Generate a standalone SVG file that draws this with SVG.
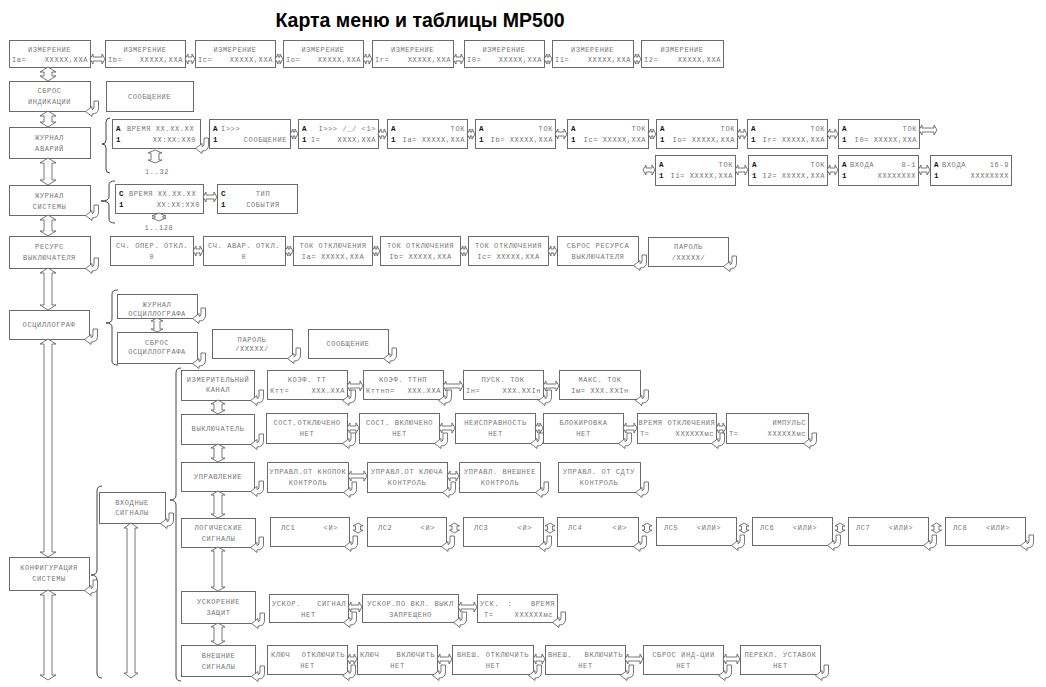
<svg xmlns="http://www.w3.org/2000/svg" xmlns:xlink="http://www.w3.org/1999/xlink" width="1046" height="687" viewBox="0 0 1046 687">
<style>
.b{fill:#fff;stroke:#6a6a6a;stroke-width:1}
.t{font-family:"Liberation Mono",monospace;font-size:7px;letter-spacing:0.6px;fill:#777}
.m{text-anchor:middle}
.e{text-anchor:end}
.k{font-family:"Liberation Mono",monospace;font-size:7.5px;font-weight:bold;fill:#111}
.ar{fill:#fff;stroke:#555;stroke-width:0.8}
.br{fill:none;stroke:#444;stroke-width:1}
.title{font-family:"Liberation Sans",Arial,sans-serif;font-size:19.5px;font-weight:bold;fill:#000;text-anchor:middle}
</style>
<defs>
<path id="hk" class="ar" d="M9,0 H13.5 V7 Q13.5,13 7,13 V15.5 L0.5,10.5 L7,5.5 V8.5 Q9,8.5 9,6 Z"/>
</defs>
<rect width="1046" height="687" fill="#fff"/>
<text class="title" x="420" y="27">Карта меню и таблицы МР500</text>

<!-- Row 1 -->
<g id="n-izm-a"><rect class="b" x="9.5" y="40.5" width="81" height="27"/><text class="t m" x="49.5" y="52">ИЗМЕРЕНИЕ</text><text class="t" x="12" y="62">Ia=</text><text class="t e" x="88" y="62">XXXXX,XXA</text></g>
<g id="n-izm-b"><rect class="b" x="105.5" y="40.5" width="80" height="27"/><text class="t m" x="145" y="52">ИЗМЕРЕНИЕ</text><text class="t" x="108" y="62">Ib=</text><text class="t e" x="183" y="62">XXXXX,XXA</text></g>
<g id="n-izm-c"><rect class="b" x="195.5" y="40.5" width="80" height="27"/><text class="t m" x="235" y="52">ИЗМЕРЕНИЕ</text><text class="t" x="198" y="62">Ic=</text><text class="t e" x="273" y="62">XXXXX,XXA</text></g>
<g id="n-izm-o"><rect class="b" x="283.5" y="40.5" width="80" height="27"/><text class="t m" x="323" y="52">ИЗМЕРЕНИЕ</text><text class="t" x="286" y="62">Io=</text><text class="t e" x="361" y="62">XXXXX,XXA</text></g>
<g id="n-izm-r"><rect class="b" x="372.5" y="40.5" width="81" height="27"/><text class="t m" x="412.5" y="52">ИЗМЕРЕНИЕ</text><text class="t" x="375" y="62">Ir=</text><text class="t e" x="451" y="62">XXXXX,XXA</text></g>
<g id="n-izm-0"><rect class="b" x="464.5" y="40.5" width="80" height="27"/><text class="t m" x="504" y="52">ИЗМЕРЕНИЕ</text><text class="t" x="467" y="62">I0=</text><text class="t e" x="542" y="62">XXXXX,XXA</text></g>
<g id="n-izm-1"><rect class="b" x="552.5" y="40.5" width="81" height="27"/><text class="t m" x="592.5" y="52">ИЗМЕРЕНИЕ</text><text class="t" x="555" y="62">I1=</text><text class="t e" x="631" y="62">XXXXX,XXA</text></g>
<g id="n-izm-2"><rect class="b" x="641.5" y="40.5" width="82" height="27"/><text class="t m" x="682" y="52">ИЗМЕРЕНИЕ</text><text class="t" x="644" y="62">I2=</text><text class="t e" x="721" y="62">XXXXX,XXA</text></g>

<!-- Row 2 -->
<g id="n-sbros"><rect class="b" x="9.5" y="81.5" width="81" height="30"/><text class="t m" x="49.5" y="93">СБРОС</text><text class="t m" x="49.5" y="104">ИНДИКАЦИИ</text></g>
<g id="n-soob1"><rect class="b" x="106.5" y="81.5" width="87" height="30"/><text class="t m" x="149.5" y="99">СООБЩЕНИЕ</text></g>

<!-- Row 3 -->
<g id="n-avar"><rect class="b" x="9.5" y="127.5" width="81" height="31"/><text class="t m" x="49.5" y="140">ЖУРНАЛ</text><text class="t m" x="49.5" y="151">АВАРИЙ</text></g>
<g id="n-av-time"><rect class="b" x="112.5" y="119.5" width="88" height="29"/><text class="k" x="116" y="131">A</text><text class="t" x="127" y="131">ВРЕМЯ XX.XX.XX</text><text class="k" x="116" y="142">1</text><text class="t e" x="196" y="142">XX:XX:XX0</text></g>
<g id="n-av-msg"><rect class="b" x="209.5" y="119.5" width="81" height="29"/><text class="k" x="213" y="131">A</text><text class="t" x="221" y="131">I&gt;&gt;&gt;</text><text class="k" x="213" y="142">1</text><text class="t e" x="287" y="142">СООБЩЕНИЕ</text></g>
<g id="n-av-i"><rect class="b" x="298.5" y="119.5" width="80" height="29"/><text class="k" x="302" y="131">A</text><text class="t e" x="376" y="131">I&gt;&gt;&gt; /_/ &lt;1&gt;</text><text class="k" x="302" y="142">1</text><text class="t" x="311" y="142">I=</text><text class="t e" x="376" y="142">XXXX,XXA</text></g>
<g id="n-av-ia"><rect class="b" x="387.5" y="119.5" width="80" height="29"/><text class="k" x="391" y="131">A</text><text class="t e" x="465" y="131">ТОК</text><text class="k" x="391" y="142">1</text><text class="t e" x="465" y="142">Ia= XXXXX,XXA</text></g>
<g id="n-av-ib"><rect class="b" x="475.5" y="119.5" width="80" height="29"/><text class="k" x="479" y="131">A</text><text class="t e" x="553" y="131">ТОК</text><text class="k" x="479" y="142">1</text><text class="t e" x="553" y="142">Ib= XXXXX,XXA</text></g>
<g id="n-av-ic"><rect class="b" x="567.5" y="119.5" width="81" height="29"/><text class="k" x="571" y="131">A</text><text class="t e" x="646" y="131">ТОК</text><text class="k" x="571" y="142">1</text><text class="t e" x="646" y="142">Ic= XXXXX,XXA</text></g>
<g id="n-av-io"><rect class="b" x="656.5" y="119.5" width="81" height="29"/><text class="k" x="660" y="131">A</text><text class="t e" x="735" y="131">ТОК</text><text class="k" x="660" y="142">1</text><text class="t e" x="735" y="142">Io= XXXXX,XXA</text></g>
<g id="n-av-ir"><rect class="b" x="747.5" y="119.5" width="80" height="29"/><text class="k" x="751" y="131">A</text><text class="t e" x="825" y="131">ТОК</text><text class="k" x="751" y="142">1</text><text class="t e" x="825" y="142">Ir= XXXXX,XXA</text></g>
<g id="n-av-i0"><rect class="b" x="838.5" y="119.5" width="81" height="29"/><text class="k" x="842" y="131">A</text><text class="t e" x="917" y="131">ТОК</text><text class="k" x="842" y="142">1</text><text class="t e" x="917" y="142">I0= XXXXX,XXA</text></g>
<g id="n-av-i1"><rect class="b" x="655.5" y="155.5" width="80" height="30"/><text class="k" x="659" y="167">A</text><text class="t e" x="733" y="167">ТОК</text><text class="k" x="659" y="178">1</text><text class="t e" x="733" y="178">I1= XXXXX,XXA</text></g>
<g id="n-av-i2"><rect class="b" x="748.5" y="155.5" width="79" height="30"/><text class="k" x="752" y="167">A</text><text class="t e" x="825" y="167">ТОК</text><text class="k" x="752" y="178">1</text><text class="t e" x="825" y="178">I2= XXXXX,XXA</text></g>
<g id="n-av-in1"><rect class="b" x="838.5" y="155.5" width="80" height="30"/><text class="k" x="842" y="167">A</text><text class="t" x="850" y="167">ВХОДА</text><text class="t e" x="916" y="167">8-1</text><text class="k" x="842" y="178">1</text><text class="t e" x="916" y="178">XXXXXXXX</text></g>
<g id="n-av-in2"><rect class="b" x="930.5" y="155.5" width="81" height="30"/><text class="k" x="934" y="167">A</text><text class="t" x="942" y="167">ВХОДА</text><text class="t e" x="1009" y="167">16-9</text><text class="k" x="934" y="178">1</text><text class="t e" x="1009" y="178">XXXXXXXX</text></g>
<text class="t m" x="157" y="174">1..32</text>

<!-- Row 4 -->
<g id="n-sist"><rect class="b" x="9.5" y="185.5" width="81" height="30"/><text class="t m" x="49.5" y="198">ЖУРНАЛ</text><text class="t m" x="49.5" y="209">СИСТЕМЫ</text></g>
<g id="n-si-time"><rect class="b" x="115.5" y="184.5" width="88" height="29"/><text class="k" x="119" y="196">C</text><text class="t" x="129" y="196">ВРЕМЯ XX.XX.XX</text><text class="k" x="119" y="207">1</text><text class="t e" x="200" y="207">XX:XX:XX0</text></g>
<g id="n-si-type"><rect class="b" x="217.5" y="184.5" width="80" height="29"/><text class="k" x="221" y="196">C</text><text class="t m" x="263" y="196">ТИП</text><text class="k" x="221" y="207">1</text><text class="t m" x="263" y="207">СОБЫТИЯ</text></g>
<text class="t m" x="159" y="230">1..128</text>

<!-- Row 5 -->
<g id="n-res"><rect class="b" x="9.5" y="236.5" width="81" height="32"/><text class="t m" x="49.5" y="249">РЕСУРС</text><text class="t m" x="49.5" y="260">ВЫКЛЮЧАТЕЛЯ</text></g>
<g id="n-r-oper"><rect class="b" x="110.5" y="236.5" width="83" height="29"/><text class="t m" x="152" y="248">СЧ. ОПЕР. ОТКЛ.</text><text class="t m" x="152" y="259">0</text></g>
<g id="n-r-avar"><rect class="b" x="203.5" y="236.5" width="82" height="29"/><text class="t m" x="244" y="248">СЧ. АВАР. ОТКЛ.</text><text class="t m" x="244" y="259">0</text></g>
<g id="n-r-ia"><rect class="b" x="293.5" y="236.5" width="79" height="29"/><text class="t m" x="333" y="248">ТОК ОТКЛЮЧЕНИЯ</text><text class="t m" x="333" y="259">Ia= XXXXX,XXA</text></g>
<g id="n-r-ib"><rect class="b" x="380.5" y="236.5" width="80" height="29"/><text class="t m" x="420.5" y="248">ТОК ОТКЛЮЧЕНИЯ</text><text class="t m" x="420.5" y="259">Ib= XXXXX,XXA</text></g>
<g id="n-r-ic"><rect class="b" x="468.5" y="236.5" width="80" height="29"/><text class="t m" x="508.5" y="248">ТОК ОТКЛЮЧЕНИЯ</text><text class="t m" x="508.5" y="259">Ic= XXXXX,XXA</text></g>
<g id="n-r-sbros"><rect class="b" x="557.5" y="236.5" width="81" height="29"/><text class="t m" x="598" y="248">СБРОС РЕСУРСА</text><text class="t m" x="598" y="259">ВЫКЛЮЧАТЕЛЯ</text></g>
<g id="n-r-pass"><rect class="b" x="648.5" y="237.5" width="80" height="29"/><text class="t m" x="688.5" y="249">ПАРОЛЬ</text><text class="t m" x="688.5" y="260">/XXXXX/</text></g>

<!-- Row 6 -->
<g id="n-osc"><rect class="b" x="9.5" y="310.5" width="80" height="29"/><text class="t m" x="49" y="327">ОСЦИЛЛОГРАФ</text></g>
<g id="n-osc-j"><rect class="b" x="117.5" y="294.5" width="80" height="24"/><text class="t m" x="157" y="307">ЖУРНАЛ</text><text class="t m" x="157" y="316">ОСЦИЛЛОГРАФА</text></g>
<g id="n-osc-s"><rect class="b" x="117.5" y="332.5" width="80" height="31"/><text class="t m" x="157" y="345">СБРОС</text><text class="t m" x="157" y="354">ОСЦИЛЛОГРАФА</text></g>
<g id="n-osc-p"><rect class="b" x="212.5" y="329.5" width="80" height="29"/><text class="t m" x="252" y="341.5">ПАРОЛЬ</text><text class="t m" x="252" y="350.5">/XXXXX/</text></g>
<g id="n-osc-m"><rect class="b" x="308.5" y="329.5" width="80" height="29"/><text class="t m" x="348" y="346">СООБЩЕНИЕ</text></g>

<!-- Configuration -->
<g id="n-konf"><rect class="b" x="9.5" y="557.5" width="80" height="33"/><text class="t m" x="49" y="570">КОНФИГУРАЦИЯ</text><text class="t m" x="49" y="581">СИСТЕМЫ</text></g>
<g id="n-vhod"><rect class="b" x="99.5" y="492.5" width="66" height="31"/><text class="t m" x="132" y="505">ВХОДНЫЕ</text><text class="t m" x="132" y="515">СИГНАЛЫ</text></g>

<g id="n-izmk"><rect class="b" x="181.5" y="370.5" width="73" height="30"/><text class="t m" x="218" y="382">ИЗМЕРИТЕЛЬНЫЙ</text><text class="t m" x="218" y="392">КАНАЛ</text></g>
<g id="n-ktt"><rect class="b" x="267.5" y="370.5" width="80" height="29"/><text class="t m" x="307" y="382">КОЭФ. ТТ</text><text class="t" x="270" y="393">Ктт=</text><text class="t e" x="345" y="393">XXX.XXA</text></g>
<g id="n-kttnp"><rect class="b" x="363.5" y="370.5" width="80" height="29"/><text class="t m" x="403" y="382">КОЭФ. ТТНП</text><text class="t" x="366" y="393">Кттнп=</text><text class="t e" x="441" y="393">XXX.XXA</text></g>
<g id="n-pusk"><rect class="b" x="463.5" y="370.5" width="80" height="29"/><text class="t m" x="503" y="382">ПУСК. ТОК</text><text class="t" x="466" y="393">Iн=</text><text class="t e" x="541" y="393">XXX.XXIн</text></g>
<g id="n-maks"><rect class="b" x="559.5" y="370.5" width="81" height="29"/><text class="t m" x="600" y="382">МАКС. ТОК</text><text class="t m" x="600" y="393">Iм=  XXX.XXIн</text></g>

<g id="n-vykl"><rect class="b" x="181.5" y="414.5" width="73" height="30"/><text class="t m" x="218" y="431">ВЫКЛЮЧАТЕЛЬ</text></g>
<g id="n-sotkl"><rect class="b" x="266.5" y="413.5" width="81" height="30"/><text class="t m" x="307" y="425">СОСТ.ОТКЛЮЧЕНО</text><text class="t m" x="307" y="436">НЕТ</text></g>
<g id="n-svkl"><rect class="b" x="359.5" y="413.5" width="80" height="30"/><text class="t m" x="399.5" y="425">СОСТ. ВКЛЮЧЕНО</text><text class="t m" x="399.5" y="436">НЕТ</text></g>
<g id="n-neispr"><rect class="b" x="455.5" y="413.5" width="80" height="30"/><text class="t m" x="495.5" y="425">НЕИСПРАВНОСТЬ</text><text class="t m" x="495.5" y="436">НЕТ</text></g>
<g id="n-blok"><rect class="b" x="543.5" y="413.5" width="80" height="30"/><text class="t m" x="583.5" y="425">БЛОКИРОВКА</text><text class="t m" x="583.5" y="436">НЕТ</text></g>
<g id="n-vremotkl"><rect class="b" x="637.5" y="413.5" width="79" height="30"/><text class="t m" x="677" y="425">ВРЕМЯ ОТКЛЮЧЕНИЯ</text><text class="t" x="640" y="436">T=</text><text class="t e" x="714" y="436">XXXXXXмс</text></g>
<g id="n-imp"><rect class="b" x="726.5" y="413.5" width="82" height="30"/><text class="t e" x="806" y="425">ИМПУЛЬС</text><text class="t" x="729" y="436">T=</text><text class="t e" x="806" y="436">XXXXXXмс</text></g>

<g id="n-upr"><rect class="b" x="181.5" y="462.5" width="73" height="29"/><text class="t m" x="218" y="479">УПРАВЛЕНИЕ</text></g>
<g id="n-knop"><rect class="b" x="267.5" y="462.5" width="81" height="30"/><text class="t m" x="308" y="474">УПРАВЛ.ОТ КНОПОК</text><text class="t m" x="308" y="485">КОНТРОЛЬ</text></g>
<g id="n-klucha"><rect class="b" x="367.5" y="462.5" width="80" height="30"/><text class="t m" x="407" y="474">УПРАВЛ.ОТ КЛЮЧА</text><text class="t m" x="407" y="485">КОНТРОЛЬ</text></g>
<g id="n-vnesh"><rect class="b" x="459.5" y="462.5" width="81" height="30"/><text class="t m" x="500" y="474">УПРАВЛ. ВНЕШНЕЕ</text><text class="t m" x="500" y="485">КОНТРОЛЬ</text></g>
<g id="n-sdtu"><rect class="b" x="558.5" y="462.5" width="82" height="30"/><text class="t m" x="599" y="474">УПРАВЛ. ОТ СДТУ</text><text class="t m" x="599" y="485">КОНТРОЛЬ</text></g>

<g id="n-log"><rect class="b" x="181.5" y="518.5" width="74" height="29"/><text class="t m" x="218.5" y="530">ЛОГИЧЕСКИЕ</text><text class="t m" x="218.5" y="541">СИГНАЛЫ</text></g>
<g id="n-ls1"><rect class="b" x="270.5" y="517.5" width="79" height="29"/><text class="t" x="281" y="530">ЛС1</text><text class="t e" x="338" y="530">&lt;И&gt;</text></g>
<g id="n-ls2"><rect class="b" x="367.5" y="517.5" width="79" height="29"/><text class="t" x="378" y="530">ЛС2</text><text class="t e" x="435" y="530">&lt;И&gt;</text></g>
<g id="n-ls3"><rect class="b" x="463.5" y="517.5" width="80" height="29"/><text class="t" x="474" y="530">ЛС3</text><text class="t e" x="532" y="530">&lt;И&gt;</text></g>
<g id="n-ls4"><rect class="b" x="557.5" y="517.5" width="81" height="29"/><text class="t" x="568" y="530">ЛС4</text><text class="t e" x="627" y="530">&lt;И&gt;</text></g>
<g id="n-ls5"><rect class="b" x="656.5" y="517.5" width="80" height="28"/><text class="t" x="664" y="530">ЛС5</text><text class="t e" x="721" y="530">&lt;ИЛИ&gt;</text></g>
<g id="n-ls6"><rect class="b" x="752.5" y="517.5" width="80" height="28"/><text class="t" x="760" y="530">ЛС6</text><text class="t e" x="817" y="530">&lt;ИЛИ&gt;</text></g>
<g id="n-ls7"><rect class="b" x="848.5" y="517.5" width="80" height="28"/><text class="t" x="856" y="530">ЛС7</text><text class="t e" x="913" y="530">&lt;ИЛИ&gt;</text></g>
<g id="n-ls8"><rect class="b" x="945.5" y="517.5" width="80" height="28"/><text class="t" x="953" y="530">ЛС8</text><text class="t e" x="1010" y="530">&lt;ИЛИ&gt;</text></g>

<g id="n-usk"><rect class="b" x="181.5" y="591.5" width="74" height="32"/><text class="t m" x="218.5" y="604">УСКОРЕНИЕ</text><text class="t m" x="218.5" y="615">ЗАЩИТ</text></g>
<g id="n-uskor"><rect class="b" x="269.5" y="594.5" width="79" height="28"/><text class="t" x="272" y="606">УСКОР.</text><text class="t e" x="346" y="606">СИГНАЛ</text><text class="t m" x="308.5" y="617">НЕТ</text></g>
<g id="n-uskpo"><rect class="b" x="362.5" y="594.5" width="96" height="28"/><text class="t m" x="410.5" y="606">УСКОР.ПО ВКЛ. ВЫКЛ</text><text class="t m" x="410.5" y="617">ЗАПРЕЩЕНО</text></g>
<g id="n-uskvr"><rect class="b" x="477.5" y="594.5" width="80" height="28"/><text class="t" x="480" y="606">УСК.</text><text class="t m" x="510" y="606">:</text><text class="t e" x="555" y="606">ВРЕМЯ</text><text class="t" x="484" y="617">T=</text><text class="t e" x="553" y="617">XXXXXXмс</text></g>

<g id="n-vnsig"><rect class="b" x="181.5" y="645.5" width="74" height="31"/><text class="t m" x="218.5" y="658">ВНЕШНИЕ</text><text class="t m" x="218.5" y="669">СИГНАЛЫ</text></g>
<g id="n-kl-otkl"><rect class="b" x="267.5" y="645.5" width="80" height="29"/><text class="t" x="271" y="657">КЛЮЧ</text><text class="t e" x="345" y="657">ОТКЛЮЧИТЬ</text><text class="t m" x="307.5" y="668">НЕТ</text></g>
<g id="n-kl-vkl"><rect class="b" x="357.5" y="645.5" width="80" height="29"/><text class="t" x="360" y="657">КЛЮЧ</text><text class="t e" x="435" y="657">ВКЛЮЧИТЬ</text><text class="t m" x="397.5" y="668">НЕТ</text></g>
<g id="n-vn-otkl"><rect class="b" x="452.5" y="645.5" width="81" height="29"/><text class="t m" x="493" y="657">ВНЕШ. ОТКЛЮЧИТЬ</text><text class="t m" x="493" y="668">НЕТ</text></g>
<g id="n-vn-vkl"><rect class="b" x="545.5" y="645.5" width="80" height="29"/><text class="t" x="548" y="657">ВНЕШ.</text><text class="t e" x="623" y="657">ВКЛЮЧИТЬ</text><text class="t m" x="585.5" y="668">НЕТ</text></g>
<g id="n-sbrind"><rect class="b" x="643.5" y="645.5" width="80" height="29"/><text class="t m" x="683.5" y="657">СБРОС ИНД-ЦИИ</text><text class="t m" x="683.5" y="668">НЕТ</text></g>
<g id="n-perekl"><rect class="b" x="740.5" y="645.5" width="80" height="29"/><text class="t m" x="780.5" y="657">ПЕРЕКЛ. УСТАВОК</text><text class="t m" x="780.5" y="668">НЕТ</text></g>

<!-- Connectors -->
<g id="connectors">
<path class="br" d="M110,118 Q106,118 106,122 V140 Q106,144 102,144 Q106,144 106,148 V169 Q106,173 110,173"/>
<path class="br" d="M115,181 Q109,181 109,185 V197 Q109,201 101,201 Q109,201 109,205 V219 Q109,223 115,223"/>
<path class="br" d="M118,290 Q112,290 112,294 V319 Q112,323 106,323 Q112,323 112,327 V361 Q112,365 118,365"/>
<path class="br" d="M102,486 Q97,486 97,491 V570 Q97,575 91,575 Q97,575 97,580 V673 Q97,678 102,678"/>
<path class="br" d="M181,368 Q176,368 176,373 V495 Q176,500 170,500 Q176,500 176,505 V676 Q176,681 181,681"/>

<path class="ar" d="M48,67 l-8,5 h4 v4 h-4 l8,5 l8,-5 h-4 v-4 h4 z"/>
<path class="ar" d="M48,111 l-8,5 h4 v6 h-4 l8,5 l8,-5 h-4 v-6 h4 z"/>
<path class="ar" d="M48,158 l-8,5 h4 v17 h-4 l8,5 l8,-5 h-4 v-17 h4 z"/>
<path class="ar" d="M48,215 l-8,5 h4 v11 h-4 l8,5 l8,-5 h-4 v-11 h4 z"/>
<path class="ar" d="M48,268 l-8,5 h4 v32 h-4 l8,5 l8,-5 h-4 v-32 h4 z"/>
<path class="ar" d="M48,339 l-8,5 h4 v208 h-4 l8,5 l8,-5 h-4 v-208 h4 z"/>
<path class="ar" d="M48,590 l-8,5 h4 v80 h-4 l8,5 l8,-5 h-4 v-80 h4 z"/>

<path class="ar" d="M155,150 l-7,3 h3 v7 h-3 l7,3 l7,-3 h-3 v-7 h3 z"/>
<path class="ar" d="M159,213 l-7,3 h3 v2 h-3 l7,3 l7,-3 h-3 v-2 h3 z"/>
<path class="ar" d="M157,318 l-6,3 h3 v8 h-3 l6,3 l6,-3 h-3 v-8 h3 z"/>
<path class="ar" d="M131,523 l-7,5 h3 v145 h-3 l7,5 l7,-5 h-3 v-145 h3 z"/>

<path class="ar" d="M218,400 l-7,4 h3 v6 h-3 l7,4 l7,-4 h-3 v-6 h3 z"/>
<path class="ar" d="M218,444 l-7,4 h3 v10 h-3 l7,4 l7,-4 h-3 v-10 h3 z"/>
<path class="ar" d="M218,491 l-7,4 h3 v19 h-3 l7,4 l7,-4 h-3 v-19 h3 z"/>
<path class="ar" d="M218,547 l-7,4 h3 v36 h-3 l7,4 l7,-4 h-3 v-36 h3 z"/>
<path class="ar" d="M218,623 l-7,4 h3 v14 h-3 l7,4 l7,-4 h-3 v-14 h3 z"/>

<path class="ar" d="M358,523 l-5,3 h2.5 v4 h-2.5 l5,3 l5,-3 h-2.5 v-4 h2.5 z"/>
<path class="ar" d="M454.5,523 l-5,3 h2.5 v4 h-2.5 l5,3 l5,-3 h-2.5 v-4 h2.5 z"/>
<path class="ar" d="M550,523 l-5,3 h2.5 v4 h-2.5 l5,3 l5,-3 h-2.5 v-4 h2.5 z"/>
<path class="ar" d="M647,523 l-5,3 h2.5 v4 h-2.5 l5,3 l5,-3 h-2.5 v-4 h2.5 z"/>
<path class="ar" d="M744,523 l-5,3 h2.5 v4 h-2.5 l5,3 l5,-3 h-2.5 v-4 h2.5 z"/>
<path class="ar" d="M840,523 l-5,3 h2.5 v4 h-2.5 l5,3 l5,-3 h-2.5 v-4 h2.5 z"/>
<path class="ar" d="M936.5,523 l-5,3 h2.5 v4 h-2.5 l5,3 l5,-3 h-2.5 v-4 h2.5 z"/>

<path class="ar" d="M90,59 l3,-5 v3 h9 v-3 l3,5 l-3,5 v-3 h-9 v3 z"/>
<path class="ar" d="M185,59 l3,-5 v3 h4 v-3 l3,5 l-3,5 v-3 h-4 v3 z"/>
<path class="ar" d="M275,59 l3,-5 v3 h2 v-3 l3,5 l-3,5 v-3 h-2 v3 z"/>
<path class="ar" d="M363,59 l3,-5 v3 h3 v-3 l3,5 l-3,5 v-3 h-3 v3 z"/>
<path class="ar" d="M453,59 l3,-5 v3 h5 v-3 l3,5 l-3,5 v-3 h-5 v3 z"/>
<path class="ar" d="M544,59 l3,-5 v3 h2 v-3 l3,5 l-3,5 v-3 h-2 v3 z"/>
<path class="ar" d="M633,59 l3,-5 v3 h2 v-3 l3,5 l-3,5 v-3 h-2 v3 z"/>

<path class="ar" d="M290,134 l3,-5 v3 h2 v-3 l3,5 l-3,5 v-3 h-2 v3 z"/>
<path class="ar" d="M378,134 l3,-5 v3 h3 v-3 l3,5 l-3,5 v-3 h-3 v3 z"/>
<path class="ar" d="M467,134 l3,-5 v3 h2 v-3 l3,5 l-3,5 v-3 h-2 v3 z"/>
<path class="ar" d="M555,134 l3,-5 v3 h6 v-3 l3,5 l-3,5 v-3 h-6 v3 z"/>
<path class="ar" d="M648,134 l3,-5 v3 h2 v-3 l3,5 l-3,5 v-3 h-2 v3 z"/>
<path class="ar" d="M737,134 l3,-5 v3 h4 v-3 l3,5 l-3,5 v-3 h-4 v3 z"/>
<path class="ar" d="M827,134 l3,-5 v3 h5 v-3 l3,5 l-3,5 v-3 h-5 v3 z"/>
<path class="ar" d="M919,130 l3,-5 v3 h12 v-3 l3,5 l-3,5 v-3 h-12 v3 z"/>
<path class="ar" d="M643,170 l3,-5 v3 h6 v-3 l3,5 l-3,5 v-3 h-6 v3 z"/>
<path class="ar" d="M735,170 l3,-5 v3 h7 v-3 l3,5 l-3,5 v-3 h-7 v3 z"/>
<path class="ar" d="M827,170 l3,-5 v3 h5 v-3 l3,5 l-3,5 v-3 h-5 v3 z"/>
<path class="ar" d="M918,170 l3,-5 v3 h6 v-3 l3,5 l-3,5 v-3 h-6 v3 z"/>

<path class="ar" d="M203,197 l3,-5 v3 h8 v-3 l3,5 l-3,5 v-3 h-8 v3 z"/>
<path class="ar" d="M193,251 l3,-5 v3 h4 v-3 l3,5 l-3,5 v-3 h-4 v3 z"/>
<path class="ar" d="M285,251 l3,-5 v3 h2 v-3 l3,5 l-3,5 v-3 h-2 v3 z"/>
<path class="ar" d="M372,251 l3,-5 v3 h2 v-3 l3,5 l-3,5 v-3 h-2 v3 z"/>
<path class="ar" d="M460,251 l3,-5 v3 h2 v-3 l3,5 l-3,5 v-3 h-2 v3 z"/>
<path class="ar" d="M548,251 l3,-5 v3 h3 v-3 l3,5 l-3,5 v-3 h-3 v3 z"/>

<path class="ar" d="M347,386 l3,-5 v3 h10 v-3 l3,5 l-3,5 v-3 h-10 v3 z"/>
<path class="ar" d="M443,386 l3,-5 v3 h14 v-3 l3,5 l-3,5 v-3 h-14 v3 z"/>
<path class="ar" d="M543,386 l3,-5 v3 h10 v-3 l3,5 l-3,5 v-3 h-10 v3 z"/>
<path class="ar" d="M347,428 l3,-5 v3 h6 v-3 l3,5 l-3,5 v-3 h-6 v3 z"/>
<path class="ar" d="M439,428 l3,-5 v3 h10 v-3 l3,5 l-3,5 v-3 h-10 v3 z"/>
<path class="ar" d="M535,428 l3,-5 v3 h2 v-3 l3,5 l-3,5 v-3 h-2 v3 z"/>
<path class="ar" d="M623,428 l3,-5 v3 h8 v-3 l3,5 l-3,5 v-3 h-8 v3 z"/>
<path class="ar" d="M716,428 l3,-5 v3 h4 v-3 l3,5 l-3,5 v-3 h-4 v3 z"/>
<path class="ar" d="M348,476 l3,-5 v3 h13 v-3 l3,5 l-3,5 v-3 h-13 v3 z"/>
<path class="ar" d="M447,476 l3,-5 v3 h6 v-3 l3,5 l-3,5 v-3 h-6 v3 z"/>
<path class="ar" d="M348,607 l3,-5 v3 h8 v-3 l3,5 l-3,5 v-3 h-8 v3 z"/>
<path class="ar" d="M458,607 l3,-5 v3 h13 v-3 l3,5 l-3,5 v-3 h-13 v3 z"/>
<path class="ar" d="M347,659 l3,-5 v3 h4 v-3 l3,5 l-3,5 v-3 h-4 v3 z"/>
<path class="ar" d="M437,659 l3,-5 v3 h9 v-3 l3,5 l-3,5 v-3 h-9 v3 z"/>
<path class="ar" d="M533,659 l3,-5 v3 h6 v-3 l3,5 l-3,5 v-3 h-6 v3 z"/>
<path class="ar" d="M625,659 l3,-5 v3 h12 v-3 l3,5 l-3,5 v-3 h-12 v3 z"/>
<path class="ar" d="M723,659 l3,-5 v3 h11 v-3 l3,5 l-3,5 v-3 h-11 v3 z"/>

<use xlink:href="#hk" x="85" y="101"/>
<use xlink:href="#hk" x="195" y="138"/>
<use xlink:href="#hk" x="85" y="205"/>
<use xlink:href="#hk" x="85" y="258"/>
<use xlink:href="#hk" x="633" y="255"/>
<use xlink:href="#hk" x="723" y="256"/>
<use xlink:href="#hk" x="84" y="329"/>
<use xlink:href="#hk" x="192" y="308"/>
<use xlink:href="#hk" x="192" y="353"/>
<use xlink:href="#hk" x="287" y="348"/>
<use xlink:href="#hk" x="383" y="348"/>
<use xlink:href="#hk" x="84" y="580"/>
<use xlink:href="#hk" x="160" y="513"/>
<use xlink:href="#hk" x="250" y="390"/>
<use xlink:href="#hk" x="342" y="390"/>
<use xlink:href="#hk" x="438" y="390"/>
<use xlink:href="#hk" x="538" y="390"/>
<use xlink:href="#hk" x="635" y="390"/>
<use xlink:href="#hk" x="250" y="434"/>
<use xlink:href="#hk" x="342" y="433"/>
<use xlink:href="#hk" x="434" y="433"/>
<use xlink:href="#hk" x="530" y="433"/>
<use xlink:href="#hk" x="618" y="433"/>
<use xlink:href="#hk" x="711" y="433"/>
<use xlink:href="#hk" x="803" y="433"/>
<use xlink:href="#hk" x="250" y="481"/>
<use xlink:href="#hk" x="343" y="482"/>
<use xlink:href="#hk" x="442" y="482"/>
<use xlink:href="#hk" x="535" y="482"/>
<use xlink:href="#hk" x="635" y="482"/>
<use xlink:href="#hk" x="250" y="537"/>
<use xlink:href="#hk" x="344" y="536"/>
<use xlink:href="#hk" x="441" y="536"/>
<use xlink:href="#hk" x="538" y="536"/>
<use xlink:href="#hk" x="633" y="536"/>
<use xlink:href="#hk" x="731" y="535"/>
<use xlink:href="#hk" x="827" y="535"/>
<use xlink:href="#hk" x="923" y="535"/>
<use xlink:href="#hk" x="1020" y="535"/>
<use xlink:href="#hk" x="251" y="613"/>
<use xlink:href="#hk" x="343" y="612"/>
<use xlink:href="#hk" x="453" y="612"/>
<use xlink:href="#hk" x="552" y="612"/>
<use xlink:href="#hk" x="251" y="666"/>
<use xlink:href="#hk" x="342" y="665"/>
<use xlink:href="#hk" x="432" y="665"/>
<use xlink:href="#hk" x="528" y="665"/>
<use xlink:href="#hk" x="620" y="665"/>
<use xlink:href="#hk" x="718" y="665"/>
<use xlink:href="#hk" x="815" y="665"/>
</g>
</svg>
